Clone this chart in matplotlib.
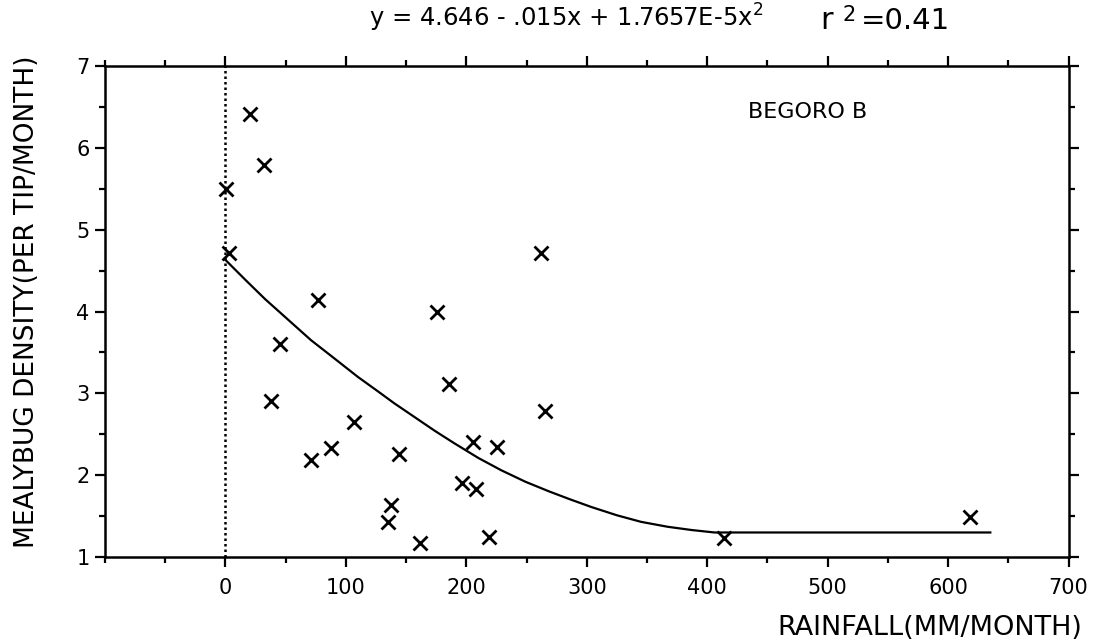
import matplotlib
matplotlib.use("Agg")
import matplotlib.pyplot as plt
from matplotlib.ticker import MultipleLocator

# rainfall (mm/month) and mealybug density (per tip/month)
rainfall = [0.8, 2.8, 20.7, 31.8, 38, 45, 71, 77, 88, 106.5, 135, 137.8, 144,
            161.8, 175.5, 186, 196.7, 205.5, 208, 219, 225.7, 262, 265, 414, 618.5]
density = [5.50, 4.71, 6.41, 5.79, 2.91, 3.60, 2.19, 4.14, 2.33, 2.65, 1.43, 1.63, 2.26,
           1.17, 3.99, 3.11, 1.90, 2.41, 1.83, 1.24, 2.35, 4.72, 2.78, 1.23, 1.485]

# fitted curve
curve_x = [0, 17, 33, 52, 71, 91, 110, 127, 140, 158, 174, 190, 210, 229, 249, 269,
           287, 304, 325, 345, 367, 387, 406, 635]
curve_y = [4.63, 4.38, 4.15, 3.90, 3.65, 3.42, 3.20, 3.02, 2.88, 2.70, 2.54, 2.39,
           2.21, 2.06, 1.92, 1.80, 1.70, 1.61, 1.51, 1.43, 1.37, 1.33, 1.30, 1.30]

x_ticks = [0, 100, 200, 300, 400, 500, 600, 700]
y_ticks = [1, 2, 3, 4, 5, 6, 7]

fig = plt.figure(figsize=(10.95, 6.43), dpi=100)
ax = fig.add_axes([0.0959, 0.1337, 0.88, 0.7637])

ax.plot([0, 0], [1, 7], color='black', linestyle=(0, (1, 1.2)), linewidth=1.8)
ax.plot(curve_x, curve_y, color='black', linewidth=1.6)
ax.plot(rainfall, density, linestyle='none', marker='x', color='black',
        markersize=10, markeredgewidth=2)

ax.set_xlim(-100, 700)
ax.set_ylim(1, 7)
ax.set_xticks(x_ticks)
ax.set_yticks(y_ticks)
ax.xaxis.set_minor_locator(MultipleLocator(50))
ax.yaxis.set_minor_locator(MultipleLocator(0.5))

for s in ax.spines.values():
    s.set_linewidth(1.8)

ax.tick_params(which='both', direction='out', top=True, right=True, width=1.6,
               labelsize=15)
ax.tick_params(which='major', length=7)
ax.tick_params(which='minor', length=4)
ax.tick_params(axis='x', pad=8)
ax.tick_params(axis='y', pad=4)

ax.set_ylabel('MEALYBUG DENSITY(PER TIP/MONTH)', fontsize=19, labelpad=26)
ax.yaxis.label.set_y(0.52)
fig.text(0.988, 0.0124, 'RAINFALL(MM/MONTH)', fontsize=19.5, ha='right', va='baseline')

ax.text(0.729, 0.906, 'BEGORO B', transform=ax.transAxes, fontsize=16,
        ha='center', va='center')

fig.text(0.517, 0.958, 'y = 4.646 - .015x + 1.7657E-5x$^2$', fontsize=17.5,
         ha='center', va='baseline')
fig.text(0.749, 0.955, 'r', fontsize=22, ha='left', va='baseline')
fig.text(0.769, 0.968, '2', fontsize=15, ha='left', va='baseline')
fig.text(0.786, 0.955, '=0.41', fontsize=21, ha='left', va='baseline')

fig.savefig('out.png', dpi=100)
